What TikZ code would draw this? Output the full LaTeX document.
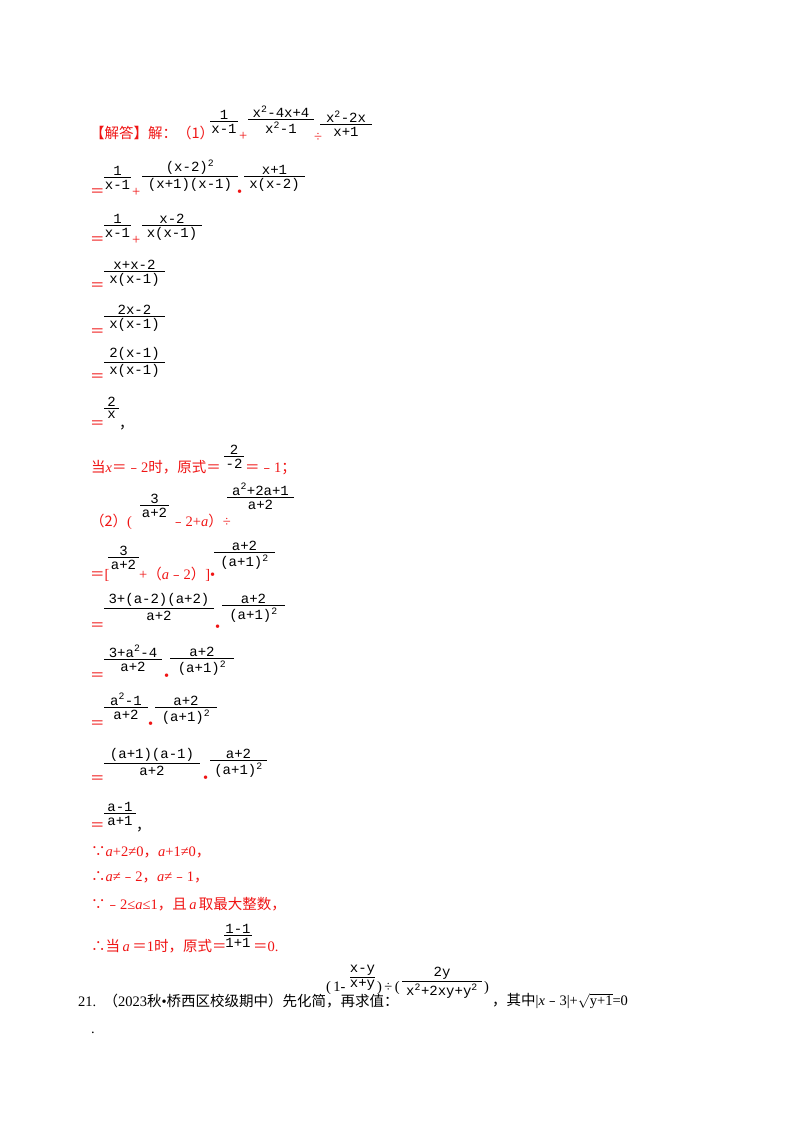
\documentclass[tikz,border=0pt]{standalone}
\usepackage{fontspec}
\setmainfont{Liberation Serif}
\newfontfamily\cjk{Noto Sans CJK SC}
\newfontfamily\mth{Liberation Mono}
\newcommand\zh[1]{{\cjk #1}}
\newcommand\sq{\textsuperscript{2}}
\definecolor{ansred}{RGB}{240,20,20}
\tikzset{t/.style={anchor=base west,inner sep=0pt,font=\fontsize{14.5}{16}\selectfont},
 fn/.style={anchor=south,inner sep=1.5pt,font=\mth\fontsize{14}{16}\selectfont},
 fd/.style={anchor=north,inner sep=2.6pt,font=\mth\fontsize{14}{16}\selectfont}}
% \frc{barY}{x1}{x2}{num}{den}
\newcommand\frc[5]{\draw[line width=0.8pt] (#2,#1) -- (#3,#1);
 \node[fn] at ({(#2+#3)/2},#1) {#4};
 \node[fd] at ({(#2+#3)/2},#1) {#5};}
\begin{document}
\begin{tikzpicture}[x=1pt,y=-1pt]
\useasboundingbox[fill=white] (0,0) rectangle (800,1132);
% line 1
\node[t,ansred] (l1) at (90,138) {\zh{【解答】解：（1）}};
\frc{121}{210}{238}{1}{x-1}
\node[t,ansred] at (239,140) {+};
\frc{119}{248}{314}{x\sq-4x+4}{x\sq-1}
\node[t,ansred] at (314,141) {÷};
\frc{124}{320}{372}{x\sq-2x}{x+1}
% line 2
\node[t,ansred] at (90,196) {\zh{＝}};
\frc{177}{104}{131}{1}{x-1}
\node[t,ansred] at (132,196) {+};
\frc{176}{142}{238}{(x-2)\sq}{(x+1)(x-1)}
\node[t,ansred] at (237,196) {•};
\frc{176}{244}{305}{x+1}{x(x-2)}
% line 3
\node[t,ansred] at (90,244) {\zh{＝}};
\frc{225}{104}{131}{1}{x-1}
\node[t,ansred] at (132,244) {+};
\frc{225}{142}{202}{x-2}{x(x-1)}
% 4-7
\node[t,ansred] at (90,290) {\zh{＝}};
\frc{271}{104}{165}{x+x-2}{x(x-1)}
\node[t,ansred] at (90,336) {\zh{＝}};
\frc{316}{104}{165}{2x-2}{x(x-1)}
\node[t,ansred] at (90,381) {\zh{＝}};
\frc{362}{104}{165}{2(x-1)}{x(x-1)}
\node[t,ansred] at (90,428) {\zh{＝}};
\frc{408}{104}{119}{2}{x}
\node[t] at (119,428) {\zh{，}};
% line 8
\node[t,ansred] at (91,472) {\zh{当}\textit{x}\zh{＝﹣}2\zh{时，原式＝}};
\frc{456}{224}{244}{2}{-2}
\node[t,ansred] at (245,472) {\zh{＝﹣}1\zh{；}};
% line 9
\node[t,ansred] at (90,526) {\zh{（2）}(};
\frc{505}{140}{169}{3}{a+2}
\node[t,ansred] at (171,526) {\zh{﹣}2+\textit{a}\zh{）}÷};
\frc{497}{227}{294}{a\sq+2a+1}{a+2}
% line 10
\node[t,ansred] at (90,579) {\zh{＝}[};
\frc{557}{108}{139}{3}{a+2}
\node[t,ansred] at (139,579) {+\zh{（}\textit{a}\zh{﹣}2\zh{）}]•};
\frc{552}{214}{275}{a+2}{(a+1)\sq}
% line 11
\node[t,ansred] at (90,630) {\zh{＝}};
\frc{608}{104}{214}{3+(a-2)(a+2)}{a+2}
\node[t,ansred] at (215,631) {•};
\frc{605}{222}{285}{a+2}{(a+1)\sq}
% line 12
\node[t,ansred] at (90,680) {\zh{＝}};
\frc{659}{104}{162}{3+a\sq-4}{a+2}
\node[t,ansred] at (164,680) {•};
\frc{658}{170}{234}{a+2}{(a+1)\sq}
% line 13
\node[t,ansred] at (90,728) {\zh{＝}};
\frc{707}{104}{148}{a\sq-1}{a+2}
\node[t,ansred] at (148,728) {•};
\frc{707}{155}{217}{a+2}{(a+1)\sq}
% line 14
\node[t,ansred] at (90,783) {\zh{＝}};
\frc{763}{104}{200}{(a+1)(a-1)}{a+2}
\node[t,ansred] at (203,782) {•};
\frc{760}{210}{267}{a+2}{(a+1)\sq}
% line 15
\node[t,ansred] at (90,830) {\zh{＝}};
\frc{813}{104}{136}{a-1}{a+1}
\node[t] at (136,830) {\zh{，}};
% 16-19
\node[t,ansred] at (91,856) {\zh{∵}\textit{a}+2≠0\zh{，}\textit{a}+1≠0\zh{，}};
\node[t,ansred] at (91,881) {\zh{∴}\textit{a}≠\zh{﹣}2\zh{，}\textit{a}≠\zh{﹣}1\zh{，}};
\node[t,ansred] at (91,909) {\zh{∵﹣}2≤\textit{a}≤1\zh{，且}\,\textit{a}\,\zh{取最大整数，}};
\node[t,ansred] at (91,951) {\zh{∴当}\,\textit{a}\,\zh{＝}1\zh{时，原式＝}};
\frc{935}{224}{252}{1-1}{1+1}
\node[t,ansred] at (253,951) {\zh{＝}0.};
% question 21
\node[t] at (78,1006) {21.\ \ \zh{（}2023\zh{秋}•\zh{桥西区校级期中）先化简，再求值：}};
\node[t] at (326,991) {(\,1-};
\frc{977}{350}{375}{x-y}{x+y}
\node[t] at (377,991) {)\,÷\,(};
\frc{981}{402}{482}{2y}{x\sq+2xy+y\sq}
\node[t] at (484,991) {)};
\node[t] at (492,1005) {\zh{，其中}|\textit{x}\zh{﹣}3|+$\sqrt{\textrm{y+1}}$=0};
\node[t] at (91,1033) {.};
\end{tikzpicture}
\end{document}
